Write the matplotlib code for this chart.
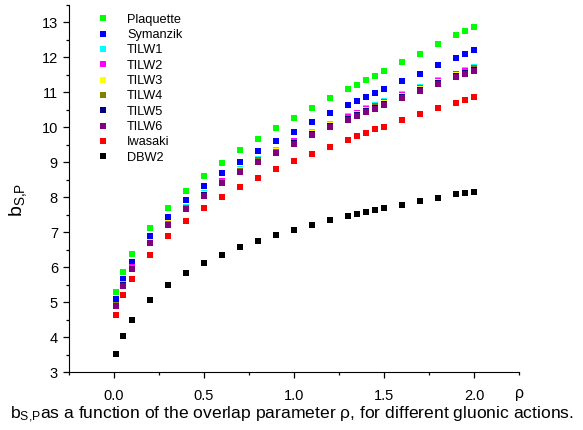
import matplotlib
matplotlib.use("Agg")
import matplotlib.pyplot as plt
from matplotlib.ticker import MultipleLocator

plt.rcParams['font.family'] = ['Liberation Sans', 'DejaVu Sans']
plt.rcParams['mathtext.fontset'] = 'custom'
plt.rcParams['mathtext.rm'] = 'Liberation Sans'
plt.rcParams['mathtext.it'] = 'Liberation Sans'

rho = [0.01, 0.05, 0.1, 0.2, 0.3, 0.4, 0.5, 0.6, 0.7, 0.8, 0.9, 1.0, 1.1, 1.2,
       1.3, 1.35, 1.4, 1.45, 1.5, 1.6, 1.7, 1.8, 1.9, 1.95, 2.0]

plaquette = [5.28, 5.87, 6.37, 7.12, 7.70, 8.19, 8.61, 8.99, 9.34, 9.66, 9.98, 10.27,
             10.56, 10.83, 11.09, 11.22, 11.35, 11.48, 11.61, 11.87, 12.11, 12.37,
             12.63, 12.75, 12.86]
symanzik = [5.08, 5.66, 6.16, 6.89, 7.44, 7.91, 8.32, 8.68, 9.02, 9.33, 9.62, 9.88,
            10.14, 10.40, 10.63, 10.75, 10.87, 10.99, 11.10, 11.32, 11.54, 11.77,
            11.99, 12.10, 12.20]
tilw1 = [4.93, 5.51, 6.00, 6.73, 7.27, 7.71, 8.11, 8.47, 8.80, 9.08, 9.35, 9.62,
         9.87, 10.10, 10.31, 10.42, 10.54, 10.63, 10.74, 10.94, 11.14, 11.34,
         11.54, 11.63, 11.72]
tilw2 = [4.92, 5.50, 5.99, 6.72, 7.26, 7.70, 8.10, 8.46, 8.78, 9.07, 9.33, 9.60,
         9.85, 10.08, 10.29, 10.40, 10.52, 10.61, 10.72, 10.92, 11.12, 11.32,
         11.52, 11.61, 11.70]
tilw3 = [4.91, 5.49, 5.98, 6.71, 7.25, 7.69, 8.08, 8.44, 8.77, 9.05, 9.31, 9.58,
         9.83, 10.06, 10.27, 10.38, 10.50, 10.59, 10.70, 10.90, 11.10, 11.30,
         11.50, 11.59, 11.68]
tilw4 = [4.91, 5.49, 5.97, 6.70, 7.23, 7.68, 8.07, 8.43, 8.75, 9.03, 9.29, 9.57,
         9.81, 10.05, 10.26, 10.36, 10.48, 10.57, 10.68, 10.88, 11.08, 11.28,
         11.48, 11.57, 11.66]
tilw5 = [4.90, 5.48, 5.96, 6.69, 7.22, 7.66, 8.05, 8.41, 8.73, 9.01, 9.27, 9.55,
         9.80, 10.03, 10.24, 10.34, 10.46, 10.55, 10.66, 10.86, 11.06, 11.26,
         11.46, 11.55, 11.64]
tilw6 = [4.89, 5.47, 5.95, 6.68, 7.21, 7.65, 8.04, 8.40, 8.72, 9.00, 9.26, 9.53,
         9.78, 10.01, 10.22, 10.32, 10.44, 10.53, 10.64, 10.84, 11.04, 11.24,
         11.44, 11.53, 11.62]
iwasaki = [4.62, 5.19, 5.67, 6.36, 6.88, 7.31, 7.68, 8.00, 8.29, 8.56, 8.81, 9.04,
           9.25, 9.45, 9.65, 9.74, 9.84, 9.94, 10.02, 10.20, 10.37, 10.54,
           10.71, 10.79, 10.87]
dbw2 = [3.51, 4.04, 4.48, 5.07, 5.50, 5.83, 6.12, 6.36, 6.57, 6.75, 6.93, 7.07,
        7.21, 7.35, 7.47, 7.52, 7.59, 7.63, 7.69, 7.79, 7.89, 7.99, 8.08, 8.12,
        8.16]

labels = ["Plaquette", "Symanzik", "TILW1", "TILW2", "TILW3", "TILW4", "TILW5",
          "TILW6", "Iwasaki", "DBW2"]
series = [plaquette, symanzik, tilw1, tilw2, tilw3, tilw4, tilw5, tilw6, iwasaki, dbw2]
colors = ["#00ff00", "#0000ff", "#00ffff", "#ff00ff", "#ffff00", "#808000",
          "#000080", "#800080", "#ff0000", "#000000"]
xtick_vals = [0.0, 0.5, 1.0, 1.5, 2.0]
xtick_labels = ["0.0", "0.5", "1.0", "1.5", "2.0"]

fig = plt.figure(figsize=(5.83, 4.30), dpi=100)
ax = fig.add_axes([69/583, 1-372/430, (519-69)/583, (372-5)/430])

for lab, ys, c in zip(labels, series, colors):
    ax.plot(rho, ys, linestyle='none', marker='s', markersize=4.2,
            markeredgewidth=0, color=c, label=lab)

ax.set_xlim(-0.25, 2.25)
ax.set_ylim(3, 13.5)
ax.xaxis.set_minor_locator(MultipleLocator(0.25))
ax.yaxis.set_major_locator(MultipleLocator(1))
ax.yaxis.set_minor_locator(MultipleLocator(0.5))
ax.set_xticks(xtick_vals)
ax.set_xticklabels(xtick_labels)
ax.spines['top'].set_visible(False)
ax.spines['right'].set_visible(False)
ax.tick_params(which='major', direction='out', length=4, width=0.9, labelsize=10.5,
               pad=8)
ax.tick_params(which='minor', direction='out', length=2.5, width=0.9)
ax.tick_params(axis='y', which='major', pad=4)

ax.set_ylabel(r"b$_{\rm S{,}P}$", fontsize=14)
ax.yaxis.set_label_coords(-0.088, 0.47)
ax.text(1.0, -0.058, "ρ", transform=ax.transAxes, ha='center', va='center',
        fontsize=11.5)

leg = ax.legend(loc='upper left', bbox_to_anchor=(0.055, 0.99), frameon=False,
                fontsize=9.2, handlelength=0.6, handletextpad=1.6,
                labelspacing=0.26, borderaxespad=0, markerscale=1.0)

fig.text(0.017, (430-415)/430,
         r"b$_{\rm S{,}P}$as a function of the overlap parameter ρ, for different gluonic actions.",
         fontsize=12.6, ha='left', va='center')

fig.savefig("out.png", dpi=100)
